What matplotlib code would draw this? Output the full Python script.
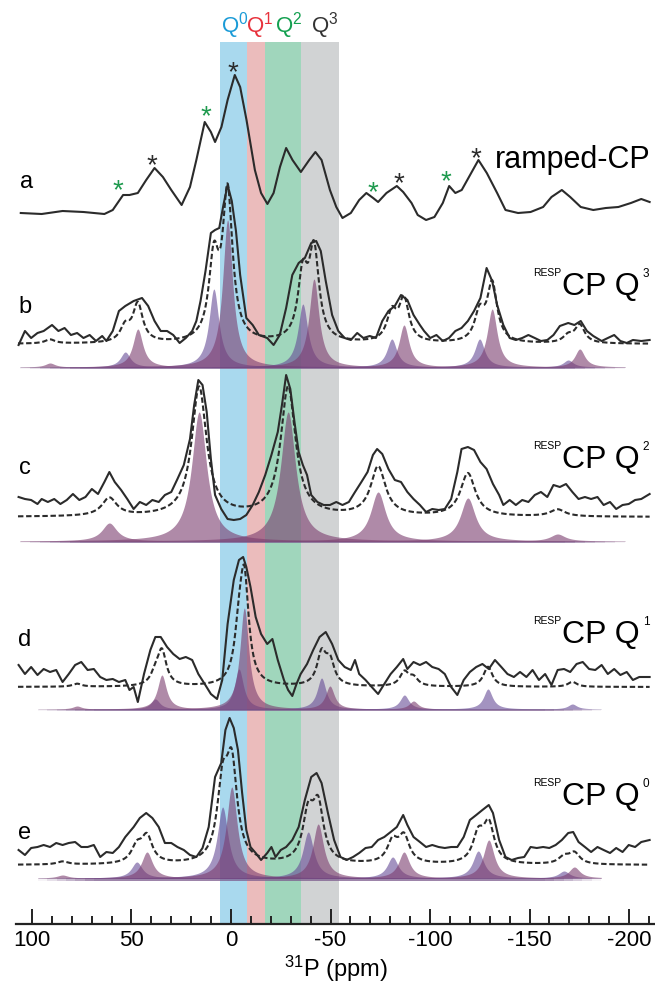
import matplotlib.pyplot as plt
import numpy as np

plt.rcParams['font.family'] = ['Liberation Sans', 'DejaVu Sans']
plt.rcParams['mathtext.default'] = 'regular'
plt.rcParams['axes.unicode_minus'] = False

# Q^n chemical shift windows (ppm)
band_edges = [5.3, -8.0, -17.3, -35.0, -54.2]
band_colors = ['#a9d9ee', '#ebbcbc', '#a0d6bc', '#d1d3d4']
band_labels = ['Q$^{0}$', 'Q$^{1}$', 'Q$^{2}$', 'Q$^{3}$']
band_label_colors = ['#1b9bd7', '#e8323c', '#14a050', '#333333']
band_label_ppm = [-2.0, -14.6, -29.0, -47.0]

# a) ramped-CP spectrum
a_ppm = [105.6, 95.1, 84.6, 74.1, 63.6, 59.4, 54.2, 51.0, 46.8, 42.6,
         38.4, 34.2, 30.0, 24.8, 20.6, 17.4, 13.2, 10.1, 8.0, 4.8,
         1.7, -1.9, -4.6, -7.8, -12.0, -15.1, -18.3, -21.4, -24.6, -27.7,
         -30.9, -35.1, -39.3, -42.4, -45.5, -49.7, -52.9, -56.0, -60.2, -64.4,
         -68.0, -71.4, -73.9, -78.1, -83.3, -86.5, -90.7, -93.8, -98.0, -102.2,
         -106.4, -109.6, -112.7, -115.9, -120.1, -124.3, -128.5, -133.7, -137.9, -144.2,
         -150.5, -156.8, -161.0, -166.2, -170.4, -175.7, -182.0, -188.3, -194.6, -200.9,
         -206.1, -210.3]
a_int = [0, -1, 2, 1, -1, 3, 18, 18, 20, 33,
         45, 36, 23, 8, 26, 53, 91, 81, 71, 86,
         113, 138, 126, 93, 43, 20, 9, 20, 46, 65,
         53, 41, 53, 61, 53, 23, 6, -5, 0, 13,
         20, 15, 11, 20, 27, 21, 10, -2, -7, -4,
         10, 27, 20, 23, 38, 53, 40, 20, 3, 0,
         1, 6, 16, 23, 16, 6, 3, 5, 6, 10,
         14, 11]

# spinning sidebands marked in a)
star_ppm = [56.7, 39.5, 12.6, -0.8, -71.2, -84.4, -108.1, -123.2]
star_int = [31, 56, 105, 149, 29, 38, 40, 63]
star_colors = ['#1e9a4e', '#2b2b2b', '#1e9a4e', '#2b2b2b',
               '#1e9a4e', '#2b2b2b', '#1e9a4e', '#2b2b2b']

# b) RESPCP Q3
b_ppm = [106.7, 103.5, 100.4, 97.2, 94.1, 89.9, 86.7, 83.6, 80.4, 77.3,
         74.1, 71.0, 67.8, 64.7, 62.6, 59.4, 56.3, 53.1, 48.9, 44.7,
         41.6, 38.4, 35.3, 32.1, 29.0, 25.8, 22.7, 19.5, 17.4, 15.3,
         12.8, 10.1, 8.0, 5.9, 3.8, 1.7, -0.4, -2.5, -4.6, -7.7,
         -10.9, -14.0, -18.2, -21.4, -24.5, -27.7, -30.8, -34.0, -37.1, -40.3,
         -42.8, -45.1, -47.6, -50.8, -53.9, -57.1, -60.2, -63.4, -66.5, -69.7,
         -72.8, -76.0, -79.1, -82.3, -85.4, -88.6, -91.7, -94.9, -97.0, -100.1,
         -103.2, -106.4, -109.5, -112.7, -115.8, -119.0, -122.1, -125.3, -128.4, -131.2,
         -133.7, -136.8, -140.0, -143.1, -146.3, -149.4, -152.6, -155.7, -158.9, -162.0,
         -165.2, -169.4, -172.5, -175.7, -178.8, -182.0, -186.2, -189.3, -192.5, -195.6,
         -198.8, -201.9, -206.1, -210.3]
b_int = [-1, 13, 6, 11, 13, 19, 13, 16, 9, 11,
         6, 9, 3, 8, 3, 13, 33, 38, 43, 46,
         38, 23, 13, 13, 9, 1, 6, 13, 23, 43,
         73, 111, 114, 116, 139, 159, 143, 113, 69, 26,
         19, 9, 6, -1, 9, 36, 69, 81, 86, 101,
         103, 93, 63, 29, 13, 6, 4, 11, 6, 8,
         6, 23, 33, 38, 49, 44, 29, 19, 13, 6,
         9, 3, 6, 13, 16, 23, 33, 46, 76, 63,
         39, 19, 6, 4, 6, 9, 6, 3, 4, 9,
         18, 21, 19, 23, 13, 8, 3, 6, 9, 3,
         1, 4, 3, 4]
b_fit_pos = [90.9, 53.1, 46.8, 8.6, 1.7, -36.1, -41.7, -80.8, -86.9, -124.9, -131.2, -169.4, -175.2]
b_fit_amp = [4, 15, 38, 78, 147, 63, 88, 28, 42, 28, 58, 7, 18]
b_fit_kind = ['m', 'l', 'm', 'l', 'm', 'l', 'm', 'l', 'm', 'l', 'm', 'l', 'm']

# c) RESPCP Q2
c_ppm = [106.7, 103.5, 100.4, 97.2, 95.1, 92.0, 88.8, 85.7, 82.5, 79.4,
         76.2, 73.1, 69.9, 66.8, 63.6, 61.1, 58.4, 55.2, 52.1, 48.9,
         45.8, 42.6, 39.5, 36.3, 33.2, 30.0, 26.9, 23.7, 20.6, 18.5,
         16.4, 14.3, 12.2, 10.1, 8.0, 4.9, 1.7, -1.4, -4.6, -7.7,
         -10.9, -14.0, -17.2, -20.3, -23.5, -25.6, -27.7, -29.8, -31.9, -34.0,
         -36.1, -38.2, -40.3, -43.4, -46.6, -49.7, -52.9, -56.0, -59.2, -62.3,
         -65.5, -68.6, -71.3, -73.4, -76.0, -79.1, -82.3, -85.4, -88.6, -91.7,
         -94.9, -98.0, -101.1, -104.3, -107.4, -110.6, -113.7, -115.8, -119.0, -122.1,
         -125.3, -128.4, -131.6, -134.7, -136.8, -140.0, -143.1, -146.3, -149.4, -152.6,
         -155.7, -158.9, -162.0, -165.2, -168.3, -171.5, -174.6, -177.8, -180.9, -184.1,
         -187.2, -190.4, -193.5, -196.7, -199.8, -203.0, -206.1, -210.3]
c_int = [20, 18, 17, 13, 18, 15, 18, 13, 17, 23,
         17, 20, 28, 23, 35, 45, 35, 27, 18, 8,
         15, 12, 17, 15, 22, 25, 38, 52, 78, 112,
         137, 132, 105, 58, 22, 8, -2, -3, -2, 2,
         12, 25, 42, 62, 85, 112, 142, 128, 95, 65,
         52, 42, 22, 15, 12, 12, 15, 12, 15, 25,
         35, 45, 62, 68, 63, 48, 37, 35, 25, 18,
         12, 5, 8, 7, 8, 18, 45, 68, 70, 67,
         55, 48, 33, 22, 12, 17, 12, 17, 15, 22,
         25, 20, 32, 30, 33, 25, 18, 20, 18, 20,
         12, 15, 8, 12, 13, 17, 18, 23]
c_fit_pos = [61.1, 16.0, -28.7, -73.9, -119.0, -164.1]
c_fit_amp = [18, 129, 129, 49, 43, 7]
c_fit_kind = ['m', 'm', 'm', 'm', 'm', 'm']

# d) RESPCP Q1
d_ppm = [106.7, 103.5, 100.4, 97.2, 94.1, 90.9, 87.8, 84.6, 81.5, 78.3,
         75.2, 72.0, 68.9, 65.7, 62.6, 59.4, 56.3, 53.1, 51.0, 48.9,
         46.8, 43.7, 40.5, 38.0, 35.3, 32.1, 29.0, 25.8, 22.7, 19.5,
         16.4, 13.2, 10.1, 7.0, 4.4, 1.7, -1.4, -4.0, -6.1, -7.7,
         -9.8, -12.4, -15.1, -18.2, -20.8, -23.5, -26.6, -28.7, -30.8, -32.9,
         -35.0, -38.2, -41.3, -44.5, -47.6, -50.8, -53.9, -57.1, -60.2, -62.3,
         -64.4, -67.6, -70.7, -73.9, -77.0, -80.2, -83.3, -86.5, -88.6, -91.7,
         -94.9, -98.0, -101.1, -104.3, -107.4, -110.6, -113.7, -116.9, -120.0, -123.2,
         -126.3, -129.5, -132.6, -135.8, -138.9, -142.1, -145.2, -148.4, -151.5, -154.7,
         -157.8, -161.0, -164.1, -167.3, -170.4, -173.6, -176.7, -179.9, -183.0, -186.2,
         -189.3, -192.5, -195.6, -198.8, -201.9, -205.1, -210.3]
d_int = [22, 13, 20, 12, 18, 15, 17, 5, 13, 22,
         25, 17, 18, 10, 7, 8, 5, 7, -3, 0,
         -15, 13, 37, 50, 50, 40, 33, 28, 30, 27,
         13, 3, -7, -12, 7, 63, 107, 127, 130, 120,
         100, 70, 53, 43, 48, 27, 7, -3, -9, 3,
         13, 23, 37, 50, 55, 43, 27, 20, 17, 27,
         13, 7, 0, -7, 3, 13, 20, 28, 18, 25,
         22, 25, 20, 18, 13, 0, -8, 7, 15, 20,
         23, 18, 27, 20, 13, 10, 15, 10, 17, 7,
         13, 2, 17, 18, 15, 23, 25, 18, 17, 22,
         13, 18, 12, 15, 7, 10, 10]
d_fit_pos = [77.3, 38.0, 34.7, -4.0, -6.7, -45.5, -49.7, -87.1, -91.7, -129.1, -171.5]
d_fit_amp = [3, 10, 34, 40, 101, 31, 23, 14, 8, 20, 5]
d_fit_kind = ['m', 'l', 'm', 'l', 'm', 'l', 'm', 'l', 'm', 'l', 'l']

# e) RESPCP Q0
e_ppm = [106.7, 103.5, 100.4, 97.2, 94.1, 90.9, 87.8, 84.6, 81.5, 78.3,
         75.2, 72.0, 68.9, 65.7, 62.6, 59.4, 56.3, 53.1, 48.9, 45.8,
         42.6, 39.5, 36.3, 33.2, 30.0, 26.9, 23.7, 20.6, 17.4, 14.3,
         11.2, 8.0, 4.9, 2.8, 0.7, -1.4, -3.5, -5.6, -7.7, -9.8,
         -12.4, -15.1, -18.2, -20.3, -22.4, -25.0, -27.7, -30.8, -34.0, -37.1,
         -40.3, -43.0, -45.5, -48.7, -51.8, -55.0, -58.1, -61.3, -64.4, -67.6,
         -70.7, -73.9, -77.0, -80.2, -83.3, -86.5, -88.6, -91.7, -94.9, -98.0,
         -101.1, -104.3, -107.4, -110.6, -113.7, -116.9, -120.0, -123.2, -126.3, -129.5,
         -131.6, -134.7, -137.9, -141.0, -144.2, -147.3, -150.5, -153.6, -156.8, -159.9,
         -163.1, -166.2, -169.4, -171.9, -174.6, -177.8, -180.9, -184.1, -187.2, -190.4,
         -193.5, -196.7, -199.8, -203.0, -206.1, -210.3]
e_int = [15, 10, 17, 18, 20, 18, 22, 20, 22, 23,
         18, 18, 20, 8, 13, 12, 18, 28, 38, 47,
         52, 47, 38, 22, 22, 18, 15, 10, 8, 17,
         38, 88, 102, 135, 147, 137, 115, 72, 35, 18,
         12, 5, 12, 18, 8, 15, 18, 25, 38, 65,
         88, 92, 82, 52, 25, 8, 5, 8, 12, 17,
         18, 25, 28, 33, 38, 50, 40, 28, 23, 18,
         20, 18, 17, 18, 18, 28, 45, 50, 55, 60,
         52, 25, 8, 5, 7, 8, 18, 17, 18, 17,
         20, 25, 32, 33, 23, 18, 13, 18, 15, 12,
         17, 13, 20, 18, 23, 25]
e_fit_pos = [84.6, 47.3, 42.2, 4.2, -0.4, -38.8, -43.8, -81.2, -86.9, -124.2, -129.5, -167.3, -172.5]
e_fit_amp = [3, 16, 26, 71, 91, 46, 54, 21, 26, 27, 38, 7, 11]
e_fit_kind = ['m', 'l', 'm', 'l', 'm', 'l', 'm', 'l', 'm', 'l', 'm', 'l', 'm']

# Lorentzian half widths of the fitted lines (ppm), one per spectrum
fit_hwhm = [3.0, 4.5, 2.7, 3.3]

line_color = '#2b2b2b'
fit_colors = {'m': '#7b3c6e', 'l': '#664b96'}


def lorentz(x, pos, amp, hw):
    return amp / (1.0 + ((x - pos) / hw) ** 2)


fig = plt.figure(figsize=(6.55, 9.85), dpi=100)
ax = fig.add_axes([16 / 655, 61 / 985, 639 / 655, 882 / 985])
ax.set_xlim(108, -213)
ax.set_ylim(0, 882)

for i in range(4):
    ax.axvspan(band_edges[i], band_edges[i + 1], color=band_colors[i], lw=0, zorder=0)
    ax.text(band_label_ppm[i], 898, band_labels[i], color=band_label_colors[i],
            fontsize=16, ha='center', va='center', clip_on=False)

# a) ramped-CP with sideband markers
a_base = 711
ax.plot(a_ppm, a_base + np.array(a_int), color=line_color, lw=1.5, zorder=3)
for p, h, c in zip(star_ppm, star_int, star_colors):
    ax.annotate('*', xy=(p, a_base + h), xytext=(0, -11.5), textcoords='offset points',
                ha='center', va='baseline', fontsize=20, color=c, zorder=4)
ax.text(102.5, 742, 'a', fontsize=17, ha='center', va='center')
ax.text(-210.6, 764, 'ramped-CP', fontsize=22, ha='right', va='center')

# b-e) RESPCP spectra: experiment, simulation and fitted components
spectra = [
    ('b', '3', b_ppm, b_int, b_fit_pos, b_fit_amp, b_fit_kind),
    ('c', '2', c_ppm, c_int, c_fit_pos, c_fit_amp, c_fit_kind),
    ('d', '1', d_ppm, d_int, d_fit_pos, d_fit_amp, d_fit_kind),
    ('e', '0', e_ppm, e_int, e_fit_pos, e_fit_amp, e_fit_kind),
]
trace_base = [580, 407, 237, 59]
fit_base = [557, 383, 215, 46]
fit_range = [(106, -198), (106, -198), (97, -186), (97, -186)]
letter_y = [617, 456, 284, 91]
name_y = [637, 464, 289, 127]

sim_x = np.linspace(107, -210.3, 1600)
for k, (letter, q, ppm, inten, pos, amp, kind) in enumerate(spectra):
    lo, hi = fit_range[k]
    fx = np.linspace(lo, hi, 1600)

    # thin baseline strip under the components, fading out at both ends
    edges = np.linspace(lo, hi, 61)
    for j in range(60):
        d = min(j + 0.5, 59.5 - j)
        ax.fill_between([edges[j], edges[j + 1]], fit_base[k] - 2.5, fit_base[k],
                        color='#7d5c8e', alpha=0.75 * min(1.0, d / 6.0), lw=0, zorder=1)

    sim = np.zeros_like(sim_x)
    for p, h, kd in zip(pos, amp, kind):
        y = lorentz(fx, p, h, fit_hwhm[k])
        ax.fill_between(fx, fit_base[k], fit_base[k] + y, color=fit_colors[kd],
                        alpha=0.6, lw=0, zorder=1)
        sim += lorentz(sim_x, p, h, fit_hwhm[k])
    ax.plot(sim_x, trace_base[k] + sim, color=line_color, lw=1.5,
            linestyle=(0, (2.6, 1.3)), zorder=3)
    ax.plot(ppm, trace_base[k] + np.array(inten), color=line_color, lw=1.5, zorder=3)

    ax.text(103.5, letter_y[k], letter, fontsize=17, ha='center', va='center')
    main = ax.text(-205.5, name_y[k], 'CP Q', fontsize=23, ha='right', va='center')
    ax.annotate('RESP', xy=(0, 1), xycoords=main, xytext=(-1, 3),
                textcoords='offset points', fontsize=7.5, ha='right', va='top')
    ax.annotate(q, xy=(1, 1), xycoords=main, xytext=(2, 3),
                textcoords='offset points', fontsize=8.5, ha='left', va='top')

# axis
for s in ['left', 'right', 'top']:
    ax.spines[s].set_visible(False)
ax.spines['bottom'].set_linewidth(1.6)
ax.spines['bottom'].set_color('#222222')
ax.set_yticks([])
ax.set_xticks(np.arange(100, -201, -50))
ax.set_xticks(np.arange(100, -211, -10), minor=True)
ax.tick_params(axis='x', which='major', direction='in', length=11, width=1.4,
               labelsize=16, pad=4, color='#222222')
ax.tick_params(axis='x', which='minor', direction='in', length=6, width=1.4,
               color='#222222')
ax.set_xlabel('$^{31}$P (ppm)', fontsize=17, labelpad=2)

fig.savefig('out.png', dpi=100)
